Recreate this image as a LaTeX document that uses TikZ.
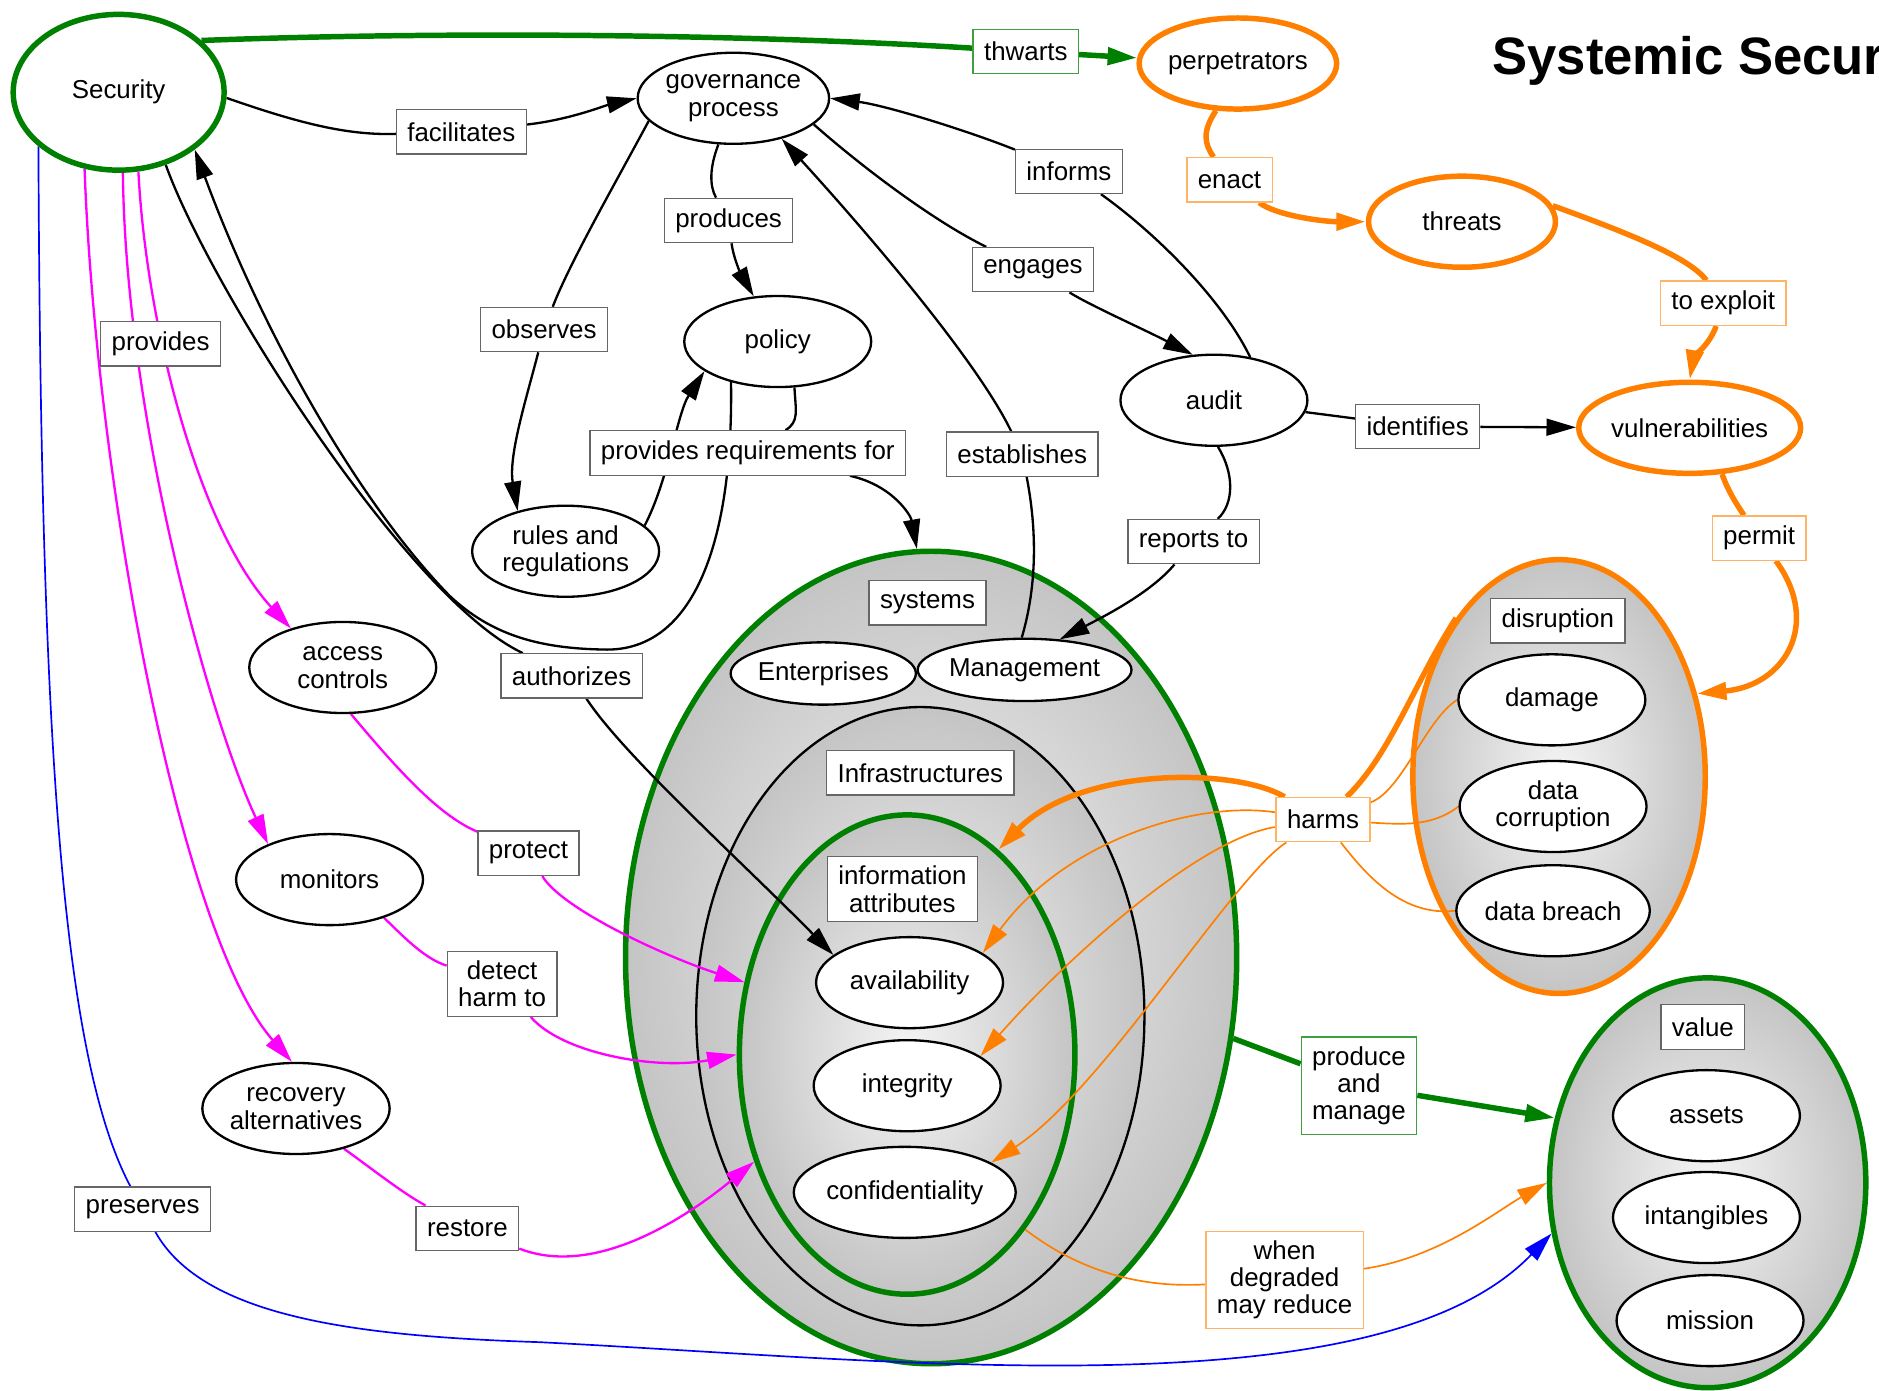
\documentclass[tikz,border=0pt]{standalone}
\usepackage{fontspec}
\setmainfont{Liberation Sans}
\usetikzlibrary{arrows.meta,shapes.geometric}
\definecolor{dkgreen}{RGB}{0,128,0}
\definecolor{dkorange}{RGB}{255,128,0}
\definecolor{magen}{RGB}{255,0,255}
\definecolor{blu}{RGB}{0,0,255}
\pgfdeclarelayer{bg}
\pgfdeclarelayer{wires}
\pgfsetlayers{bg,wires,main}
\begin{document}
\begin{tikzpicture}[x=0.2mm,y=-0.2mm,
    every node/.style={font=\fontsize{12.3}{13}\selectfont},
    concept/.style={ellipse,draw,line width=1.1pt,fill=white,inner sep=0pt,
      minimum width=31.2mm,minimum height=15.2mm,align=center},
    hot/.style={concept,draw=dkorange,line width=2.6pt},
    lbl/.style={draw=black!60,line width=0.6pt,fill=white,inner xsep=5.2pt,
      inner ysep=4.4pt,minimum height=7.4mm,align=center},
    grp/.style={ellipse,draw=dkgreen,line width=2.6pt,inner sep=0pt,
      inner color=black!4,outer color=black!23},
    arr/.style={-{Triangle[length=14pt,width=8pt]}}]
      \useasboundingbox (0,0) rectangle (1568,1160);
      \begin{pgfonlayer}{bg}
        \node[grp,minimum width=102mm,minimum height=135.6mm] (sys) at (777,799) {};
        \node[grp,draw=black,line width=1.1pt,minimum width=74.8mm,minimum height=103.2mm] (inf) at (768,848) {};
        \node[grp,minimum width=56mm,minimum height=80mm] (att) at (757,880) {};
        \node[grp,draw=dkorange,minimum width=48.8mm,minimum height=72.4mm] (dis) at (1301,648) {};
        \node[grp,minimum width=52.8mm,minimum height=68.4mm] (val) at (1425,987) {};
      \end{pgfonlayer}
      \node[concept,draw=dkgreen,line width=2.6pt,minimum width=35.2mm,minimum height=26mm] (sec) at (99,77) {Security};
      \node[concept] (gov) at (612,82) {governance\\process};
      \node[hot] (perp) at (1033,53) {perpetrators};
      \node[hot] (thr) at (1220,185) {threats};
      \node[concept] (pol) at (649,285) {policy};
      \node[concept] (aud) at (1013,334) {audit};
      \node[hot,minimum width=35.2mm] (vul) at (1410,357) {vulnerabilities};
      \node[concept] (rul) at (472,460) {rules and\\regulations};
      \node[concept] (acc) at (286,557) {access\\controls};
      \node[concept] (mon) at (275,734) {monitors};
      \node[concept] (rec) at (247,925) {recovery\\alternatives};
      \node[concept,minimum width=28mm,minimum height=10.4mm] (ent) at (687,562) {Enterprises};
      \node[concept,minimum width=33.6mm,minimum height=10.4mm] (man) at (855,559) {Management};
      \node[concept] (ava) at (759,820) {availability};
      \node[concept] (int) at (757,906) {integrity};
      \node[concept,minimum width=35.2mm] (con) at (755,995) {confidentiality};
      \node[concept] (dam) at (1295,584) {damage};
      \node[concept] (cor) at (1296,673) {data\\corruption};
      \node[concept] (bre) at (1296,760) {data breach};
      \node[concept] (ass) at (1424,931) {assets};
      \node[concept] (itg) at (1424,1016) {intangibles};
      \node[concept] (mis) at (1427,1102) {mission};
      \node[lbl] (sysl) at (774,503) {systems};
      \node[lbl] (infl) at (768,645) {Infrastructures};
      \node[lbl] (attl) at (753,742) {information\\attributes};
      \node[lbl] (disl) at (1300,518) {disruption};
      \node[lbl] (vall) at (1421,857) {value};
      \node[lbl,draw=dkgreen!75] (l1) at (856,43) {thwarts};
      \node[lbl] (l2) at (385,110) {facilitates};
      \node[lbl] (l3) at (892,143) {informs};
      \node[lbl,draw=dkorange!60] (l4) at (1026,150) {enact};
      \node[lbl] (l5) at (608,184) {produces};
      \node[lbl] (l6) at (862,225) {engages};
      \node[lbl,draw=dkorange!60] (l7) at (1438,253) {to exploit};
      \node[lbl] (l8) at (134,287) {provides};
      \node[lbl] (l9) at (454,275) {observes};
      \node[lbl] (l10) at (624,378) {provides requirements for};
      \node[lbl] (l11) at (853,379) {establishes};
      \node[lbl] (l12) at (1183,356) {identifies};
      \node[lbl] (l13) at (996,452) {reports to};
      \node[lbl,draw=dkorange!60] (l14) at (1468,449) {permit};
      \node[lbl] (l15) at (477,564) {authorizes};
      \node[lbl] (l16) at (441,712) {protect};
      \node[lbl,draw=dkorange!60] (l17) at (1104,684) {harms};
      \node[lbl] (l18) at (419,821) {detect\\harm to};
      \node[lbl,draw=dkgreen!75] (l19) at (1134,906) {produce\\and\\manage};
      \node[lbl] (l20) at (119,1009) {preserves};
      \node[lbl] (l21) at (390,1025) {restore};
      \node[lbl,draw=dkorange!60] (l22) at (1072,1068) {when\\degraded\\may reduce};
      \node[anchor=base west,inner sep=0pt,font=\fontsize{25}{30}\selectfont\bfseries] (ttl) at (1245,62) {Systemic Secur};
      \begin{pgfonlayer}{wires}
      \begin{scope}[line width=1.1pt]
        \draw (sec.-3) .. controls (250,103) and (290,113) .. (l2);
        \draw[arr] (l2) .. controls (475,100) and (505,88) .. (gov.west);
        \draw (gov.195) .. controls (515,150) and (475,220) .. (l9);
        \draw[arr] (l9) .. controls (440,330) and (424,380) .. (rul.140);
        \draw (gov.252) .. controls (592,140) and (592,155) .. (l5);
        \draw[arr] (l5) .. controls (612,215) and (618,228) .. (pol.118);
        \draw (gov.-18) .. controls (720,140) and (780,185) .. (l6);
        \draw[arr] (l6) .. controls (910,255) and (955,275) .. (aud.115);
        \draw (aud.50) .. controls (1020,250) and (965,195) .. (l3);
        \draw[arr] (l3) .. controls (810,110) and (740,88) .. (gov.east);
        \draw (man.95) .. controls (868,480) and (863,430) .. (l11);
        \draw[arr] (l11) .. controls (815,300) and (720,190) .. (gov.-40);
        \draw (aud.-85) .. controls (1030,395) and (1030,420) .. (l13);
        \draw[arr] (l13) .. controls (960,495) and (920,515) .. (man.41);
        \draw (aud) -- (l12);
        \draw[arr] (l12) -- (vul);
        \draw[arr] (rul.18) .. controls (558,400) and (565,345) .. (pol.202);
        \draw (pol.-70) .. controls (664,343) and (667,352) .. (l10);
        \draw[arr] (l10) .. controls (745,405) and (760,430) .. (sys.92);
        \draw[arr] (pol.221) .. controls (612,450) and (580,545) .. (503,542)
          .. controls (450,541) and (410,530) .. (375,497)
          .. controls (300,420) and (220,280) .. (sec.-37);
        \draw (sec.-57) .. controls (175,240) and (340,500) .. (l15);
        \draw[arr] (l15) .. controls (520,630) and (620,720) .. (ava.160);
      \end{scope}
      \begin{scope}[line width=2.6pt,dkgreen]
        \draw (sec.32) .. controls (400,25) and (650,30) .. (l1);
        \draw[arr] (l1) -- (perp);
        \draw (sys.-15) -- (l19);
        \draw[arr] (l19) -- (val.157);
      \end{scope}
      \begin{scope}[line width=2.6pt,dkorange]
        \draw (perp.-115) .. controls (1003,110) and (1005,120) .. (l4);
        \draw[arr] (l4) .. controls (1065,180) and (1105,185) .. (thr.west);
        \draw (thr.10) .. controls (1360,195) and (1410,215) .. (l7);
        \draw[arr] (l7) .. controls (1428,285) and (1413,300) .. (vul.north);
        \draw (vul.-55) .. controls (1442,410) and (1450,422) .. (l14);
        \draw[arr] (l14) .. controls (1520,520) and (1490,572) .. (dis.31);
        \draw (dis.123) .. controls (1180,570) and (1160,630) .. (l17);
        \draw[arr] (l17) .. controls (1030,640) and (900,640) .. (att.66);
      \end{scope}
      \begin{scope}[line width=0.8pt,dkorange]
        \draw (dam.west) .. controls (1190,600) and (1170,660) .. (l17);
        \draw[arr] (l17) .. controls (1000,668) and (890,700) .. (ava.22);
        \draw (cor.west) .. controls (1195,690) and (1170,688) .. (l17);
        \draw[arr] (l17) .. controls (1000,700) and (890,800) .. (int.22);
        \draw (bre.west) .. controls (1170,765) and (1140,730) .. (l17);
        \draw[arr] (l17) .. controls (1030,730) and (920,910) .. (con.19);
        \draw (att.-56) .. controls (900,1060) and (950,1075) .. (l22);
        \draw[arr] (l22) .. controls (1200,1050) and (1250,1010) .. (val.180);
      \end{scope}
      \begin{scope}[line width=1.1pt,magen]
        \draw[arr] (sec.-76) .. controls (122,270) and (165,440) .. (acc.143);
        \draw[arr] (sec.-87) .. controls (105,350) and (175,600) .. (mon.150);
        \draw[arr] (sec.-114) .. controls (80,400) and (150,780) .. (rec.95);
        \draw (acc.-80) .. controls (330,640) and (365,680) .. (l16);
        \draw[arr] (l16) .. controls (470,760) and (560,800) .. (att.156);
        \draw (mon.-35) .. controls (340,785) and (355,800) .. (l18);
        \draw[arr] (l18) .. controls (470,880) and (550,893) .. (att.180);
        \draw (rec.-40) .. controls (310,975) and (335,995) .. (l21);
        \draw[arr] (l21) .. controls (500,1068) and (580,1010) .. (att.215);
      \end{scope}
      \begin{scope}[line width=0.8pt,blu]
        \draw (sec.214) .. controls (34,600) and (50,880) .. (l20);
        \draw[arr] (l20) .. controls (170,1100) and (300,1115) .. (450,1120)
          .. controls (750,1135) and (1150,1180) .. (val.198);
      \end{scope}
      \end{pgfonlayer}
    \end{tikzpicture}
\end{document}
